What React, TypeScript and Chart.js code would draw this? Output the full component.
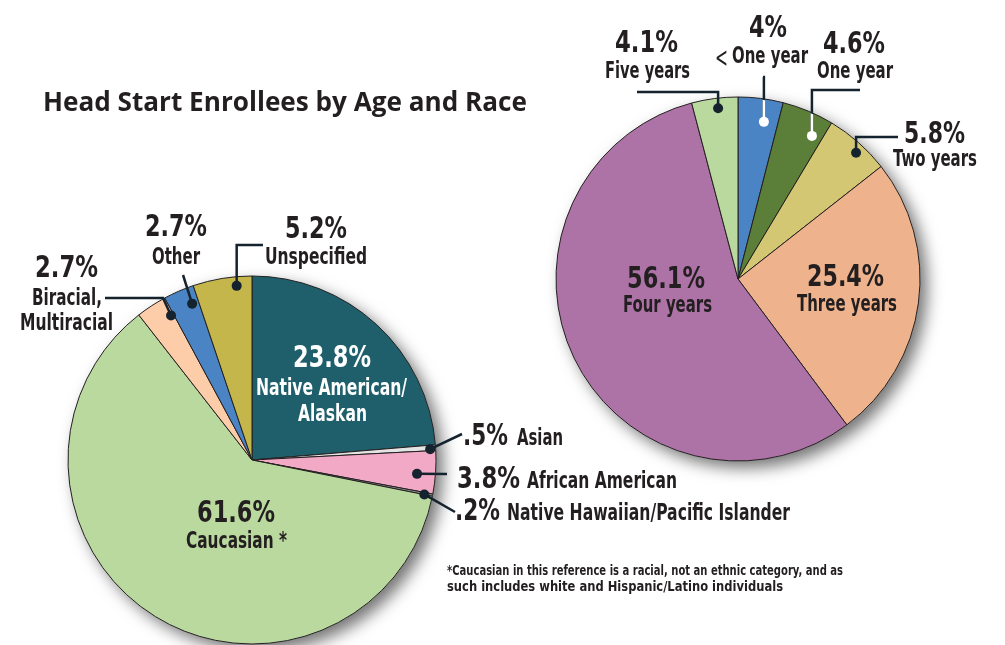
import React, { useEffect, useRef } from 'react';
import { Chart, registerables } from 'chart.js';

Chart.register(...registerables);

// ---------------- data ----------------
const raceCategories = [
  'Native American/\nAlaskan',
  'Asian',
  'African American',
  'Native Hawaiian/Pacific Islander',
  'Caucasian *',
  'Biracial,\nMultiracial',
  'Other',
  'Unspecified',
];
const raceValues = [23.8, 0.5, 3.8, 0.2, 61.6, 2.7, 2.7, 5.2];
const raceColors = ['#1f5f6b', '#e4e4e4', '#f2a9c5', '#8f8f8f', '#bad99f', '#fdcca8', '#4a84c4', '#c4b64b'];

const ageCategories = ['<One year', 'One year', 'Two years', 'Three years', 'Four years', 'Five years'];
const ageValues = [4, 4.6, 5.8, 25.4, 56.1, 4.1];
const ageColors = ['#4a84c4', '#5b7f38', '#d4c774', '#eeb38c', '#ad72a6', '#bad99f'];

const titleText = 'Head Start Enrollees by Age and Race';
const footnoteLines = [
  '*Caucasian in this reference is a racial, not an ethnic category, and as',
  'such includes white and Hispanic/Latino individuals',
];

// ---------------- layout ----------------
type Leader = { kind: 'elbowV' | 'elbowH' | 'straight'; from: [number, number]; via?: [number, number] };
type LabelLayout = {
  pct: [number, number, number];
  lines: [number, number, number][];
  white?: boolean;
  at?: number;
  dotR?: number;
  leader?: Leader;
  innerWhite?: boolean;
  lt?: [number, number, number];
};

const raceLayout: LabelLayout[] = [
  { pct: [293, 367, 78], lines: [[256, 395, 151], [298, 421, 69]], white: true },
  { pct: [463, 445, 45], lines: [[517, 445, 46]], at: 0.7, dotR: 0.97, leader: { kind: 'straight', from: [462, 434] } },
  { pct: [457, 488, 63], lines: [[527, 488, 150]], at: 0.57, dotR: 0.9, leader: { kind: 'straight', from: [447, 474] } },
  { pct: [455, 520, 45], lines: [[507, 520, 283]], at: 0.9, dotR: 0.955, leader: { kind: 'straight', from: [455, 512] } },
  { pct: [197, 522, 78], lines: [[186, 548, 101]] },
  { pct: [35, 277, 63], lines: [[32, 305, 70], [20, 330, 93]], at: 0.9, dotR: 0.9, leader: { kind: 'elbowH', from: [105, 298], via: [163, 298] } },
  { pct: [145, 236, 62], lines: [[152, 264, 48]], at: 0.76, dotR: 0.91, leader: { kind: 'straight', from: [183, 275] } },
  { pct: [285, 238, 62], lines: [[265, 264, 102]], at: 0.73, dotR: 0.95, leader: { kind: 'elbowV', from: [263, 245] } },
];

const ageLayout: LabelLayout[] = [
  { pct: [749, 37, 38], lines: [[732, 63, 76]], lt: [715, 67, 13], at: 0.65, dotR: 0.875, leader: { kind: 'elbowV', from: [763, 77] }, innerWhite: true },
  { pct: [823, 53, 62], lines: [[817, 78, 76]], at: 0.78, dotR: 0.885, leader: { kind: 'elbowV', from: [860, 90] }, innerWhite: true },
  { pct: [904, 143, 61], lines: [[893, 166, 84]], at: 0.58, dotR: 0.95, leader: { kind: 'elbowV', from: [898, 137] } },
  { pct: [807, 286, 77], lines: [[797, 311, 100]] },
  { pct: [627, 288, 78], lines: [[623, 312, 89]] },
  { pct: [615, 52, 63], lines: [[605, 78, 85]], at: 0.55, dotR: 0.945, leader: { kind: 'elbowV', from: [637, 92] } },
];

const NARROW = '"Liberation Sans Narrow", "DejaVu Sans Condensed", "Roboto", sans-serif';
const TEXT = '#231f20';
const LINE = '#14232e';

function fmtPct(v: number): string {
  const s = String(v);
  return (v < 1 ? s.replace(/^0/, '') : s) + '%';
}

function fitText(ctx: CanvasRenderingContext2D, text: string, x: number, y: number, w: number, font: string, color: string) {
  ctx.save();
  ctx.font = font;
  ctx.textAlign = 'left';
  ctx.textBaseline = 'alphabetic';
  ctx.fillStyle = color;
  const m = ctx.measureText(text).width || 1;
  ctx.translate(x, y);
  ctx.scale(w / m, 1);
  ctx.fillText(text, 0, 0);
  ctx.restore();
}

function makePlugin(values: number[], cats: string[], layout: LabelLayout[], extra?: (ctx: CanvasRenderingContext2D) => void) {
  return {
    id: 'pieDecor',
    beforeDatasetsDraw(chart: any) {
      const el = chart.getDatasetMeta(0).data[0];
      if (!el) return;
      const ctx: CanvasRenderingContext2D = chart.ctx;
      ctx.save();
      ctx.shadowColor = 'rgba(0,0,0,0.55)';
      ctx.shadowBlur = 16;
      ctx.shadowOffsetX = 7;
      ctx.shadowOffsetY = 7;
      ctx.beginPath();
      ctx.arc(el.x, el.y, el.outerRadius, 0, Math.PI * 2);
      ctx.fillStyle = '#ffffff';
      ctx.fill();
      ctx.restore();
    },
    afterDatasetsDraw(chart: any) {
      const ctx: CanvasRenderingContext2D = chart.ctx;
      const meta = chart.getDatasetMeta(0);
      meta.data.forEach((arc: any, i: number) => {
        const L = layout[i];
        if (!L) return;
        const cx = arc.x, cy = arc.y, R = arc.outerRadius;
        if (L.leader) {
          const a = arc.startAngle + (arc.endAngle - arc.startAngle) * (L.at ?? 0.5);
          const dx = cx + Math.cos(a) * R * (L.dotR ?? 0.9);
          const dy = cy + Math.sin(a) * R * (L.dotR ?? 0.9);
          const pts: [number, number][] = [L.leader.from];
          if (L.leader.kind === 'elbowV') pts.push([dx, L.leader.from[1]]);
          if (L.leader.kind === 'elbowH' && L.leader.via) pts.push(L.leader.via);
          pts.push([dx, dy]);
          const path = () => {
            ctx.beginPath();
            ctx.moveTo(pts[0][0], pts[0][1]);
            for (let k = 1; k < pts.length; k++) ctx.lineTo(pts[k][0], pts[k][1]);
          };
          ctx.save();
          ctx.lineWidth = 2.5;
          ctx.lineJoin = 'miter';
          ctx.strokeStyle = LINE;
          path();
          ctx.stroke();
          if (L.innerWhite) {
            ctx.save();
            ctx.beginPath();
            ctx.arc(cx, cy, R - 1, 0, Math.PI * 2);
            ctx.clip();
            ctx.strokeStyle = '#ffffff';
            path();
            ctx.stroke();
            ctx.restore();
          }
          ctx.beginPath();
          ctx.arc(dx, dy, 5, 0, Math.PI * 2);
          ctx.fillStyle = L.innerWhite ? '#ffffff' : LINE;
          ctx.fill();
          ctx.restore();
        }
        const color = L.white ? '#ffffff' : TEXT;
        fitText(ctx, fmtPct(values[i]), L.pct[0], L.pct[1], L.pct[2], `bold 31px ${NARROW}`, color);
        let name = cats[i];
        if (L.lt && name.startsWith('<')) {
          fitText(ctx, '<', L.lt[0], L.lt[1], L.lt[2], `28px "DejaVu Sans", sans-serif`, color);
          name = name.slice(1);
        }
        const parts = name.split('\n');
        parts.forEach((p, k) => {
          const ln = L.lines[k];
          if (ln) fitText(ctx, p, ln[0], ln[1], ln[2], `bold 23px ${NARROW}`, color);
        });
      });
      if (extra) extra(ctx);
    },
  };
}

function pieConfig(values: number[], colors: string[], cats: string[], radius: number, padding: any, plugin: any): any {
  return {
    type: 'pie',
    data: {
      labels: cats,
      datasets: [
        {
          data: values,
          backgroundColor: colors,
          borderColor: '#231f20',
          borderWidth: 1,
        },
      ],
    },
    options: {
      responsive: false,
      animation: false,
      events: [],
      radius,
      layout: { padding },
      plugins: { legend: { display: false }, tooltip: { enabled: false }, title: { display: false } },
    },
    plugins: [plugin],
  };
}

export default function App() {
  const leftRef = useRef<HTMLCanvasElement>(null);
  const rightRef = useRef<HTMLCanvasElement>(null);

  useEffect(() => {
    const extras = (ctx: CanvasRenderingContext2D) => {
      fitText(ctx, titleText, 43, 111, 484, `bold 26px "Open Sans", "Lato", sans-serif`, TEXT);
      fitText(ctx, footnoteLines[0], 447, 575, 396, `bold 14px ${NARROW}`, TEXT);
      fitText(ctx, footnoteLines[1], 447, 591, 336, `bold 14px ${NARROW}`, TEXT);
    };
    const left = new Chart(
      leftRef.current as HTMLCanvasElement,
      pieConfig(raceValues, raceColors, raceCategories, 184, { left: 68, right: 569, top: 276, bottom: 1 },
        makePlugin(raceValues, raceCategories, raceLayout, extras))
    );
    const right = new Chart(
      rightRef.current as HTMLCanvasElement,
      pieConfig(ageValues, ageColors, ageCategories, 182, { left: 556, right: 85, top: 97, bottom: 184 },
        makePlugin(ageValues, ageCategories, ageLayout))
    );
    return () => {
      left.destroy();
      right.destroy();
    };
  }, []);

  return (
    <div style={{ position: 'absolute', left: 0, top: 0, width: 1005, height: 645, overflow: 'hidden', background: '#ffffff' }}>
      <canvas ref={leftRef} width={1005} height={645} style={{ position: 'absolute', left: 0, top: 0 }} />
      <canvas ref={rightRef} width={1005} height={645} style={{ position: 'absolute', left: 0, top: 0 }} />
    </div>
  );
}
